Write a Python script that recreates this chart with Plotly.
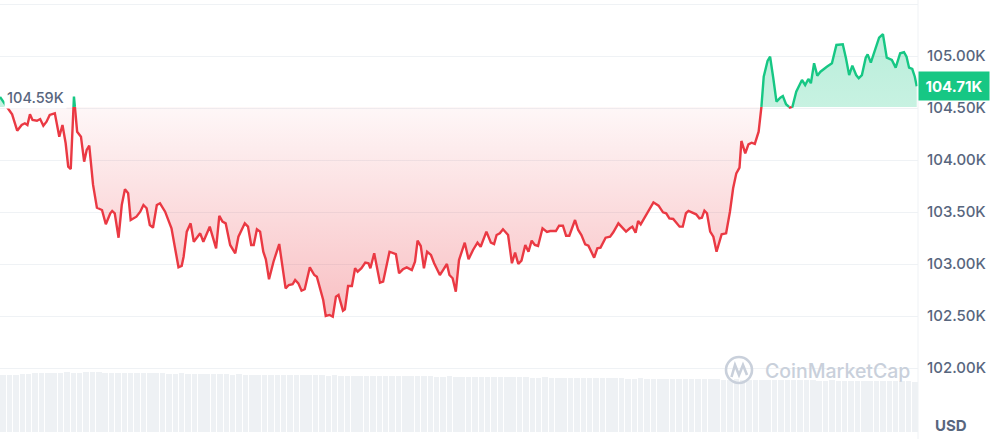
import plotly.graph_objects as go

# ---------------- data ----------------
# minutes since window start
times = [
    0, 19, 27, 34, 39, 43, 47, 51, 58, 63,
    68, 73, 78, 86, 93, 98, 103, 107, 111, 116,
    121, 127, 132, 136, 140, 146, 152, 160, 166, 173,
    176, 180, 186, 191, 196, 201, 205, 214, 220, 225,
    230, 235, 240, 246, 251, 259, 269, 280, 285, 288,
    293, 299, 304, 314, 319, 329, 339, 344, 349, 354,
    361, 369, 374, 384, 389, 394, 398, 403, 408, 413,
    417, 422, 429, 438, 442, 448, 453, 459, 463, 468,
    473, 478, 486, 493, 497, 502, 507, 511, 517, 522,
    527, 531, 538, 541, 546, 552, 557, 561, 567, 573,
    578, 581, 587, 596, 601, 611, 616, 621, 626, 632,
    638, 646, 651, 655, 660, 665, 670, 676, 681, 690,
    695, 701, 705, 710, 715, 720, 729, 735, 742, 749,
    754, 763, 770, 775, 779, 784, 789, 797, 803, 808,
    813, 818, 824, 829, 834, 839, 844, 851, 858, 863,
    872, 877, 883, 888, 893, 902, 907, 912, 918, 923,
    932, 937, 942, 950, 957, 962, 970, 975, 982, 988,
    992, 997, 1001, 1005, 1014, 1025, 1033, 1040, 1045, 1050,
    1056, 1061, 1066, 1071, 1076, 1080, 1087, 1092, 1097, 1101,
    1105, 1109, 1114, 1119, 1124, 1132, 1139, 1145, 1150, 1155,
    1160, 1163, 1169, 1174, 1179, 1184, 1190, 1194, 1198, 1204,
    1208, 1213, 1218, 1224, 1228, 1233, 1239, 1243, 1249, 1254,
    1258, 1263, 1268, 1272, 1277, 1282, 1287, 1297, 1305, 1312,
    1318, 1322, 1327, 1332, 1337, 1343, 1347, 1352, 1358, 1361,
    1366, 1374, 1379, 1385, 1391, 1399, 1405, 1412, 1418, 1422,
    1426, 1431, 1435, 1438,
]

# price in thousands of USD
prices = [
    104.606, 104.439, 104.282, 104.337, 104.353, 104.337, 104.439, 104.385, 104.378, 104.394,
    104.330, 104.368, 104.433, 104.449, 104.224, 104.337, 104.161, 103.936, 103.913, 104.609,
    104.272, 104.224, 103.984, 104.096, 104.138, 103.760, 103.541, 103.519, 103.382, 103.488,
    103.510, 103.488, 103.253, 103.567, 103.718, 103.680, 103.423, 103.455, 103.503, 103.567,
    103.536, 103.375, 103.349, 103.567, 103.584, 103.503, 103.343, 102.968, 102.981, 103.070,
    103.311, 103.391, 103.214, 103.295, 103.214, 103.359, 103.151, 103.462, 103.407, 103.391,
    103.183, 103.103, 103.263, 103.391, 103.359, 103.183, 103.183, 103.334, 103.311, 103.118,
    103.045, 102.853, 103.022, 103.192, 103.007, 102.766, 102.798, 102.805, 102.846, 102.814,
    102.743, 102.757, 102.968, 102.894, 102.878, 102.766, 102.654, 102.500, 102.510, 102.493,
    102.686, 102.702, 102.551, 102.564, 102.788, 102.788, 102.959, 102.926, 102.959, 103.013,
    103.007, 102.959, 103.103, 102.820, 102.830, 103.118, 103.103, 103.096, 102.911, 102.949,
    102.968, 102.942, 103.022, 103.224, 103.173, 102.959, 103.118, 103.087, 103.007, 102.894,
    102.942, 103.000, 102.894, 102.863, 102.734, 103.038, 103.205, 103.045, 103.135, 103.205,
    103.166, 103.311, 103.205, 103.192, 103.279, 103.295, 103.334, 103.279, 103.007, 103.109,
    103.000, 103.032, 103.183, 103.118, 103.224, 103.183, 103.173, 103.343, 103.308, 103.317,
    103.317, 103.368, 103.368, 103.272, 103.272, 103.423, 103.327, 103.279, 103.189, 103.176,
    103.061, 103.151, 103.157, 103.253, 103.263, 103.305, 103.391, 103.359, 103.311, 103.343,
    103.359, 103.301, 103.413, 103.382, 103.478, 103.593, 103.561, 103.497, 103.488, 103.439,
    103.433, 103.401, 103.359, 103.359, 103.488, 103.510, 103.488, 103.478, 103.439, 103.445,
    103.513, 103.488, 103.311, 103.263, 103.118, 103.286, 103.295, 103.503, 103.728, 103.872,
    103.926, 104.183, 104.064, 104.151, 104.166, 104.154, 104.272, 104.481, 104.801, 104.952,
    104.993, 104.786, 104.561, 104.599, 104.615, 104.536, 104.503, 104.512, 104.657, 104.728,
    104.769, 104.721, 104.779, 104.738, 104.930, 104.811, 104.849, 104.897, 104.930, 105.106,
    105.106, 105.112, 104.978, 104.817, 104.907, 104.817, 104.786, 104.817, 104.984, 105.016,
    104.936, 105.080, 105.176, 105.209, 104.984, 104.962, 104.888, 105.026, 105.036, 104.993,
    104.888, 104.875, 104.801, 104.710,
]

base_price = 104.51          # reference (open) line, as drawn
base_label = "104.59K"
last_label = "104.71K"

# volume bars: 10-minute buckets (millions, relative)
vol_times = [5 + 10 * i for i in range(144)]
volumes = [
    570, 572, 575, 580, 585, 588, 590, 592, 590, 594, 596, 592, 590, 598, 600, 596,
    594, 592, 590, 588, 590, 589, 591, 588, 586, 587, 585, 584, 586, 583, 580, 582,
    578, 580, 577, 576, 575, 578, 574, 572, 575, 573, 570, 572, 571, 569, 570, 568,
    567, 569, 566, 565, 567, 564, 563, 565, 562, 561, 563, 560, 561, 559, 560, 558,
    559, 557, 556, 558, 555, 554, 556, 553, 552, 554, 551, 550, 552, 549, 548, 550,
    547, 546, 548, 545, 544, 546, 543, 542, 544, 541, 540, 542, 539, 538, 540, 537,
    536, 538, 535, 534, 536, 533, 532, 534, 531, 530, 532, 529, 528, 530, 527, 526,
    528, 525, 524, 526, 523, 522, 524, 521, 520, 522, 519, 518, 520, 517, 516, 518,
    515, 514, 516, 513, 512, 514, 511, 510, 512, 509, 508, 510, 507, 506, 508, 505,
]

y_ticks = [102.0, 102.5, 103.0, 103.5, 104.0, 104.5, 105.0, 105.5]
y_tick_labels = ["102.00K", "102.50K", "103.00K", "103.50K", "104.00K", "104.50K", "105.00K", ""]

# ---------------- styling ----------------
RED = "#ea3943"
GREEN = "#16c784"
TXT = "#58667e"
GRID = "#eff2f5"
FONT = "Inter"

n = min(len(times), len(prices))
times, prices = times[:n], prices[:n]

# insert baseline crossing points so colours switch exactly at the baseline
xs, ys = [], []
for i in range(n):
    if i > 0:
        p0, p1 = prices[i - 1], prices[i]
        if (p0 - base_price) * (p1 - base_price) < 0:
            f = (base_price - p0) / (p1 - p0)
            xs.append(times[i - 1] + f * (times[i] - times[i - 1]))
            ys.append(base_price)
    xs.append(times[i])
    ys.append(prices[i])

below_line = [y if y <= base_price else None for y in ys]
above_line = [y if y >= base_price else None for y in ys]
below_fill = [min(y, base_price) for y in ys]
above_fill = [max(y, base_price) for y in ys]

fig = go.Figure()

# volume bars
fig.add_trace(go.Bar(
    x=vol_times, y=volumes, yaxis="y2", width=8.6,
    marker=dict(color="#eef1f4", line=dict(width=0)),
    hoverinfo="skip", showlegend=False,
))

# red fill (below baseline)
fig.add_trace(go.Scatter(
    x=xs + xs[::-1], y=below_fill + [base_price] * len(xs),
    mode="lines", line=dict(width=0), fill="toself",
    fillcolor="rgba(234,57,67,0.12)",
    fillgradient=dict(type="vertical",
                      colorscale=[[0, "rgba(234,57,67,0.32)"], [1, "rgba(234,57,67,0.04)"]]),
    hoverinfo="skip", showlegend=False,
))
# green fill (above baseline)
fig.add_trace(go.Scatter(
    x=xs + xs[::-1], y=above_fill + [base_price] * len(xs),
    mode="lines", line=dict(width=0), fill="toself",
    fillcolor="rgba(22,199,132,0.27)",
    fillgradient=dict(type="vertical",
                      colorscale=[[0, "rgba(22,199,132,0.24)"], [1, "rgba(22,199,132,0.30)"]]),
    hoverinfo="skip", showlegend=False,
))
# lines
fig.add_trace(go.Scatter(x=xs, y=below_line, mode="lines",
                         line=dict(color=RED, width=2.4), connectgaps=False,
                         showlegend=False))
fig.add_trace(go.Scatter(x=xs, y=above_line, mode="lines",
                         line=dict(color=GREEN, width=2.4), connectgaps=False,
                         showlegend=False))

W, H = 993, 439
PW = 918  # plot width in px

def px(xp):
    return xp / PW

def py(yp):
    return 1 - yp / H

ann = [
    dict(xref="paper", yref="y", x=px(4), y=base_price, xanchor="left", yanchor="bottom",
         text=base_label, showarrow=False, bgcolor="white", borderpad=2, yshift=-2,
         font=dict(family=FONT, size=14.5, color=TXT, weight=500)),
    dict(xref="paper", yref="y", x=1, y=prices[-1], xanchor="left", yanchor="middle",
         text="<b>%s</b>" % last_label, showarrow=False, bgcolor=GREEN,
         width=62, height=20, borderpad=4,
         font=dict(family=FONT, size=15, color="white")),
    dict(xref="paper", yref="paper", x=px(951), y=py(425), xanchor="center", yanchor="middle",
         text="<b>USD</b>", showarrow=False,
         font=dict(family=FONT, size=15, color=TXT)),
    dict(xref="paper", yref="paper", x=px(763), y=py(371), xanchor="left", yanchor="middle",
         text="CoinMarketCap", showarrow=False,
         font=dict(family=FONT, size=19.5, color="#c9d0db", weight=500)),
]

shapes = [
    dict(type="line", xref="paper", yref="paper", x0=1, x1=1, y0=0, y1=1,
         line=dict(color=GRID, width=1)),
    dict(type="circle", xref="paper", yref="paper",
         x0=px(726), x1=px(752), y0=py(383), y1=py(357),
         line=dict(color="#c9d0db", width=2.6)),
    dict(type="path", xref="paper", yref="paper",
         path="M %f %f L %f %f L %f %f L %f %f L %f %f" % (
             px(731.5), py(377), px(735), py(365), px(739), py(375),
             px(743), py(365), px(747), py(375)),
         line=dict(color="#c9d0db", width=2.6)),
]

fig.update_layout(
    width=W, height=H,
    margin=dict(l=0, r=W - PW, t=0, b=0),
    paper_bgcolor="white", plot_bgcolor="rgba(0,0,0,0)",
    showlegend=False, bargap=0,
    xaxis=dict(range=[0, 1440], visible=False, showgrid=False, zeroline=False,
               fixedrange=True),
    yaxis=dict(range=[104.5 - 331 / 104, 104.5 + 108 / 104], side="right",
               tickvals=y_ticks, ticktext=y_tick_labels,
               showgrid=True, gridcolor=GRID, gridwidth=1, zeroline=False,
               showline=False, ticks="", ticklabelstandoff=8,
               tickfont=dict(family=FONT, size=15, color=TXT, weight=500)),
    yaxis2=dict(domain=[1 - 432 / H, 1 - 366 / H], range=[0, 660], anchor="x",
                visible=False, showgrid=False, zeroline=False, fixedrange=True),
    annotations=ann, shapes=shapes,
)

fig.write_html(
    "out.html",
    config={"displayModeBar": False},
    post_script="document.body.style.margin='0';document.body.style.padding='0';",
)
